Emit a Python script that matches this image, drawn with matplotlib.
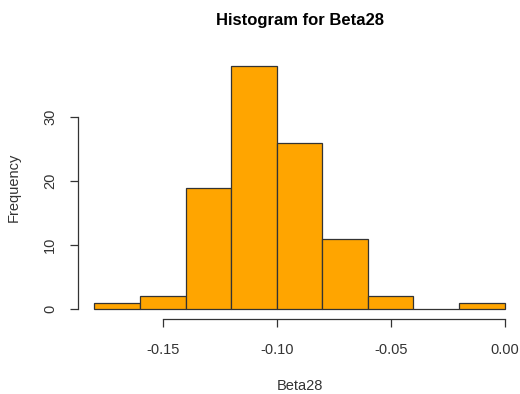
import numpy as np
import matplotlib
matplotlib.use("Agg")
import matplotlib.pyplot as plt

# ── Data ────────────────────────────────────────────────────────────────────
bin_edges = [-0.18, -0.16, -0.14, -0.12, -0.10, -0.08, -0.06, -0.04, -0.02, 0.00]
counts    = [1, 2, 19, 38, 26, 11, 2, 0, 1]
x_ticks   = [-0.15, -0.10, -0.05, 0.00]
x_labels  = ["-0.15", "-0.10", "-0.05", "0.00"]
y_ticks   = [0, 10, 20, 30]

plt.rcParams['font.family'] = ['Liberation Sans', 'DejaVu Sans']

W, H = 520, 394
fig = plt.figure(figsize=(W / 100, H / 100), dpi=100)
# plot region in pixels (R style)
left, right, top, bottom = 78, 521, 56, 319
ax = fig.add_axes([left / W, (H - bottom) / H, (right - left) / W, (bottom - top) / H])

edges = np.array(bin_edges)
ax.bar(edges[:-1], counts, width=np.diff(edges), align='edge',
       color='#FFA500', edgecolor='#333333', linewidth=0.9)

# R extends axes by 4%
xr = edges[-1] - edges[0]
ax.set_xlim(edges[0] - 0.04 * xr, edges[-1] + 0.04 * xr)
ymax = max(counts)
ax.set_ylim(-0.04 * ymax, ymax * 1.04)

for s in ['top', 'right']:
    ax.spines[s].set_visible(False)
ax.spines['left'].set_bounds(y_ticks[0], y_ticks[-1])
ax.spines['bottom'].set_bounds(x_ticks[0], x_ticks[-1])
for s in ['left', 'bottom']:
    ax.spines[s].set_color('#333333')
    ax.spines[s].set_linewidth(0.9)

ax.set_xticks(x_ticks)
ax.set_xticklabels(x_labels)
ax.set_yticks(y_ticks)
ax.set_yticklabels([str(v) for v in y_ticks], rotation=90, va='center')
ax.tick_params(direction='out', length=6, width=0.9, color='#333333',
               labelsize=10.5, labelcolor='#333333', pad=11)
ax.tick_params(axis='y', pad=9)

ax.set_xlabel('Beta28', fontsize=10.5, color='#333333', labelpad=16)
ax.set_ylabel('Frequency', fontsize=10.5, color='#333333', labelpad=16)
ax.set_title('Histogram for Beta28', fontsize=12, fontweight='bold', pad=22)

fig.savefig('out.png', dpi=100)
